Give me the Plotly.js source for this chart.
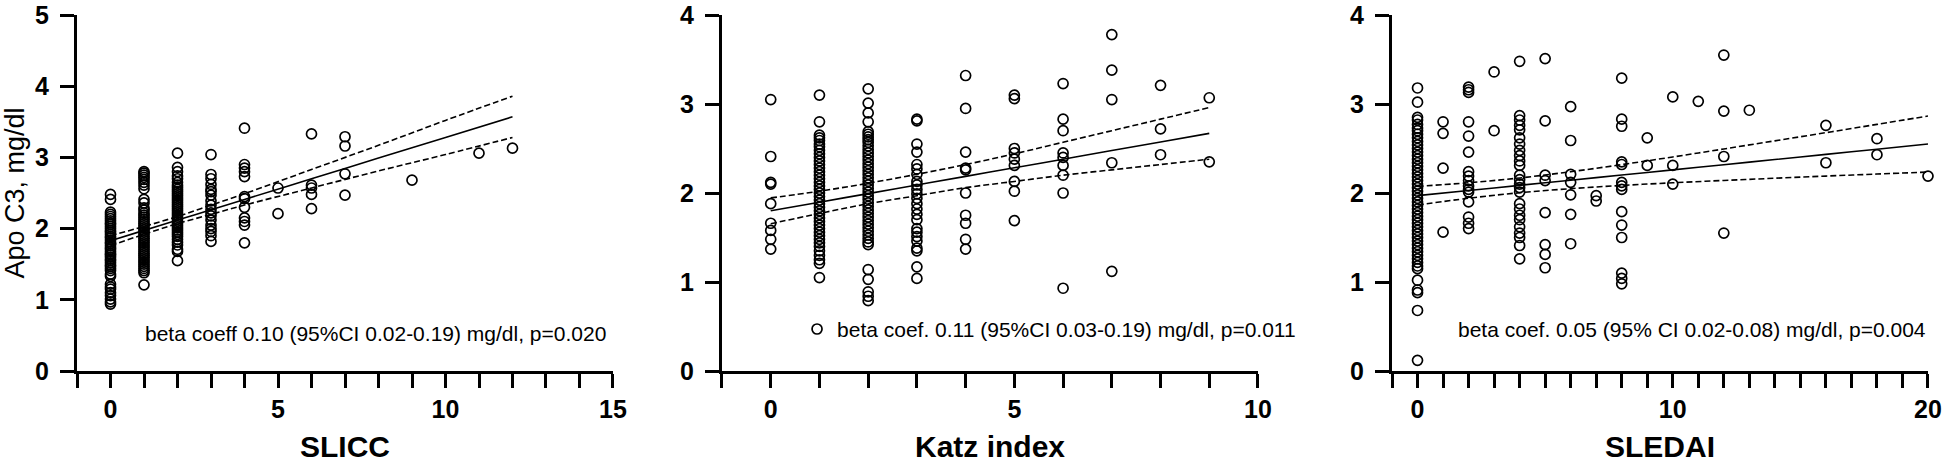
<!DOCTYPE html>
<html>
<head>
<meta charset="utf-8">
<script src="https://cdn.plot.ly/plotly-3.0.1.min.js"></script>
<style>html,body{margin:0;padding:0;background:#fff;}#chart{width:1944px;height:463px;}</style>
</head>
<body>
<div id="chart"></div>
<script>
// ---------- Panel 1: SLICC ----------
var sliccLevels = [0, 1, 2, 3, 4, 5, 6, 7, 9, 11, 12];
var apoBySlicc = [
  [2.48, 2.41, 2.23, 2.20, 2.17, 2.14, 2.11, 2.08, 2.06, 2.03, 2.00, 1.97, 1.95, 1.92, 1.89, 1.87, 1.84, 1.81, 1.79, 1.76, 1.73, 1.71, 1.68, 1.65, 1.63, 1.60, 1.57, 1.55, 1.52, 1.49, 1.47, 1.44, 1.41, 1.36, 1.33, 1.22, 1.18, 1.15, 1.10, 1.06, 1.01, 0.97, 0.94],
  [2.80, 2.78, 2.75, 2.72, 2.69, 2.65, 2.61, 2.56, 2.41, 2.36, 2.29, 2.26, 2.22, 2.19, 2.16, 2.13, 2.10, 2.07, 2.04, 2.01, 1.98, 1.95, 1.92, 1.89, 1.86, 1.83, 1.80, 1.77, 1.74, 1.71, 1.68, 1.65, 1.62, 1.59, 1.56, 1.53, 1.50, 1.47, 1.44, 1.41, 1.38, 1.21],
  [3.06, 2.86, 2.80, 2.74, 2.70, 2.65, 2.61, 2.58, 2.55, 2.52, 2.49, 2.46, 2.43, 2.40, 2.37, 2.34, 2.31, 2.28, 2.25, 2.22, 2.19, 2.16, 2.13, 2.10, 2.07, 2.04, 2.01, 1.98, 1.95, 1.92, 1.89, 1.85, 1.81, 1.77, 1.71, 1.68, 1.55],
  [3.04, 2.76, 2.70, 2.62, 2.55, 2.52, 2.47, 2.39, 2.33, 2.27, 2.22, 2.18, 2.12, 2.05, 2.00, 1.96, 1.90, 1.82],
  [3.41, 2.90, 2.85, 2.80, 2.73, 2.45, 2.42, 2.30, 2.15, 2.10, 2.05, 1.80],
  [2.57, 2.21],
  [3.33, 2.61, 2.57, 2.48, 2.28],
  [3.29, 3.16, 2.77, 2.47],
  [2.68],
  [3.06],
  [3.13]
];
var sliccFitX = [0, 1, 2, 3, 4, 6, 8, 10, 12];
var sliccFit   = [1.83, 1.975, 2.12, 2.265, 2.41, 2.70, 2.99, 3.28, 3.57];
var sliccUpper = [1.90, 2.03, 2.17, 2.33, 2.49, 2.83, 3.17, 3.52, 3.86];
var sliccLower = [1.76, 1.92, 2.07, 2.20, 2.33, 2.57, 2.81, 3.04, 3.28];

// ---------- Panel 2: Katz index ----------
var katzLevels = [0, 1, 2, 3, 4, 5, 6, 7, 8, 9];
var apoByKatz = [
  [3.05, 2.41, 2.12, 2.10, 1.88, 1.66, 1.58, 1.48, 1.37],
  [3.10, 2.80, 2.65, 2.62, 2.59, 2.55, 2.52, 2.48, 2.44, 2.40, 2.36, 2.32, 2.28, 2.24, 2.20, 2.16, 2.12, 2.08, 2.04, 2.00, 1.96, 1.92, 1.88, 1.84, 1.80, 1.76, 1.72, 1.68, 1.64, 1.60, 1.56, 1.52, 1.48, 1.44, 1.40, 1.35, 1.30, 1.25, 1.21, 1.05],
  [3.17, 3.01, 2.90, 2.80, 2.69, 2.66, 2.63, 2.60, 2.57, 2.53, 2.49, 2.45, 2.41, 2.37, 2.33, 2.29, 2.25, 2.21, 2.17, 2.13, 2.09, 2.05, 2.01, 1.97, 1.93, 1.89, 1.85, 1.81, 1.77, 1.73, 1.69, 1.65, 1.61, 1.57, 1.53, 1.49, 1.45, 1.42, 1.14, 1.03, 0.89, 0.84, 0.79],
  [2.83, 2.81, 2.55, 2.46, 2.32, 2.27, 2.21, 2.13, 2.09, 2.04, 1.99, 1.94, 1.88, 1.82, 1.76, 1.70, 1.60, 1.56, 1.51, 1.46, 1.38, 1.35, 1.17, 1.04],
  [3.32, 2.95, 2.46, 2.28, 2.26, 2.00, 1.75, 1.66, 1.48, 1.37],
  [3.10, 3.06, 2.50, 2.45, 2.38, 2.31, 2.13, 2.02, 1.69],
  [3.23, 2.83, 2.70, 2.45, 2.40, 2.31, 2.20, 2.00, 0.93],
  [3.78, 3.38, 3.05, 2.34, 1.12],
  [3.21, 2.72, 2.43],
  [3.07, 2.35]
];
var katzFitX  = [0, 1, 2, 3, 4, 5, 6, 7, 8, 9];
var katzFit   = [1.80, 1.897, 1.993, 2.09, 2.187, 2.283, 2.38, 2.477, 2.573, 2.67];
var katzUpper = [1.945, 2.02, 2.11, 2.21, 2.32, 2.44, 2.57, 2.70, 2.83, 2.96];
var katzLower = [1.655, 1.77, 1.88, 1.97, 2.06, 2.13, 2.20, 2.26, 2.32, 2.38];

// ---------- Panel 3: SLEDAI ----------
var sledaiLevels = [0, 1, 2, 3, 4, 5, 6, 7, 8, 9, 10, 11, 12, 13, 16, 18, 20];
var apoBySledai = [
  [3.18, 3.02, 2.85, 2.82, 2.77, 2.73, 2.70, 2.66, 2.62, 2.58, 2.54, 2.50, 2.46, 2.42, 2.38, 2.34, 2.30, 2.26, 2.22, 2.18, 2.14, 2.10, 2.06, 2.02, 1.98, 1.94, 1.90, 1.86, 1.82, 1.78, 1.74, 1.70, 1.66, 1.62, 1.58, 1.54, 1.50, 1.46, 1.42, 1.38, 1.34, 1.30, 1.26, 1.22, 1.18, 1.15, 1.02, 0.91, 0.88, 0.68, 0.12],
  [2.80, 2.67, 2.28, 1.56],
  [3.19, 3.16, 3.13, 2.80, 2.64, 2.46, 2.24, 2.19, 2.14, 2.08, 2.04, 2.01, 1.90, 1.73, 1.66, 1.60],
  [3.36, 2.70],
  [3.48, 2.87, 2.82, 2.76, 2.71, 2.62, 2.55, 2.48, 2.42, 2.36, 2.31, 2.20, 2.15, 2.10, 2.06, 2.01, 1.88, 1.82, 1.75, 1.70, 1.62, 1.55, 1.50, 1.41, 1.26],
  [3.51, 2.81, 2.20, 2.14, 1.78, 1.42, 1.31, 1.16],
  [2.97, 2.59, 2.21, 2.12, 1.98, 1.76, 1.43],
  [1.97, 1.91],
  [3.29, 2.83, 2.75, 2.35, 2.32, 2.12, 2.08, 2.04, 1.79, 1.64, 1.50, 1.10, 1.04, 0.98],
  [2.62, 2.31],
  [3.08, 2.31, 2.10],
  [3.03],
  [3.55, 2.92, 2.41, 1.55],
  [2.93],
  [2.76, 2.34],
  [2.61, 2.43],
  [2.19]
];
var sledaiFitX  = [0, 2, 4, 6, 8, 10, 12, 14, 16, 18, 20];
var sledaiFit   = [1.97, 2.028, 2.086, 2.144, 2.202, 2.26, 2.318, 2.376, 2.434, 2.492, 2.55];
var sledaiUpper = [2.075, 2.115, 2.169, 2.239, 2.319, 2.405, 2.495, 2.586, 2.678, 2.771, 2.865];
var sledaiLower = [1.865, 1.941, 2.003, 2.049, 2.085, 2.115, 2.141, 2.166, 2.19, 2.213, 2.235];

// ---------- Texts ----------
var xTitles = ['SLICC', 'Katz index', 'SLEDAI'];
var yTitle = 'Apo C3, mg/dl';
var xLabelSteps = [5, 5, 10];
var statTexts = [
  'beta coeff 0.10 (95%CI 0.02-0.19) mg/dl, p=0.020',
  'beta coef. 0.11 (95%CI 0.03-0.19) mg/dl, p=0.011',
  'beta coef. 0.05 (95% CI 0.02-0.08) mg/dl, p=0.004'
];

function flatten(levels, groups) {
  var xs = [], ys = [];
  for (var i = 0; i < levels.length; i++) {
    for (var j = 0; j < groups[i].length; j++) { xs.push(levels[i]); ys.push(groups[i][j]); }
  }
  return {x: xs, y: ys};
}

var FONT = 'Liberation Sans, Arial, Helvetica, sans-serif';
var marker = {symbol: 'circle-open', size: 10, color: '#000', line: {width: 1.7, color: '#000'}};
var traces = [];
var panels = [
  {lv: sliccLevels, g: apoBySlicc, fx: sliccFitX, f: sliccFit, u: sliccUpper, l: sliccLower, xa: 'x', ya: 'y'},
  {lv: katzLevels, g: apoByKatz, fx: katzFitX, f: katzFit, u: katzUpper, l: katzLower, xa: 'x2', ya: 'y2'},
  {lv: sledaiLevels, g: apoBySledai, fx: sledaiFitX, f: sledaiFit, u: sledaiUpper, l: sledaiLower, xa: 'x3', ya: 'y3'}
];
panels.forEach(function (p, k) {
  var d = flatten(p.lv, p.g);
  traces.push({type: 'scatter', mode: 'markers', x: d.x, y: d.y, xaxis: p.xa, yaxis: p.ya,
    marker: marker, name: statTexts[k], showlegend: k === 1, cliponaxis: false, hoverinfo: 'x+y'});
  traces.push({type: 'scatter', mode: 'lines', x: p.fx, y: p.f, xaxis: p.xa, yaxis: p.ya,
    line: {color: '#000', width: 1.6, shape: 'spline'}, showlegend: false});
  traces.push({type: 'scatter', mode: 'lines', x: p.fx, y: p.u, xaxis: p.xa, yaxis: p.ya,
    line: {color: '#000', width: 1.6, dash: '6px,3px', shape: 'spline'}, showlegend: false});
  traces.push({type: 'scatter', mode: 'lines', x: p.fx, y: p.l, xaxis: p.xa, yaxis: p.ya,
    line: {color: '#000', width: 1.6, dash: '6px,3px', shape: 'spline'}, showlegend: false});
});

function xAxis(dom, rng, anchor, title, step) {
  return {domain: dom, range: rng, anchor: anchor, showgrid: false, zeroline: false,
    showline: true, linewidth: 3, linecolor: '#000', ticks: 'outside', ticklen: 14, tickwidth: 3, tickcolor: '#000',
    tick0: 0, dtick: step, minor: {dtick: 1, tick0: 0, ticks: 'outside', ticklen: 14, tickwidth: 3, tickcolor: '#000', showgrid: false},
    tickfont: {family: FONT, size: 25, color: '#000', weight: 'bold'}, ticklabelstandoff: 0, ticklabeloverflow: 'allow',
    title: {text: title, font: {family: FONT, size: 30, color: '#000', weight: 'bold'}, standoff: 21}};
}
function yAxis(rng, anchor, title) {
  var a = {range: rng, anchor: anchor, domain: [0, 1], showgrid: false, zeroline: false,
    showline: true, linewidth: 3, linecolor: '#000', ticks: 'outside', ticklen: 14, tickwidth: 3, tickcolor: '#000',
    tick0: 0, dtick: 1, tickfont: {family: FONT, size: 25, color: '#000', weight: 'bold'},
    ticklabelstandoff: 6, ticklabeloverflow: 'allow'};
  if (title) a.title = {text: title, font: {family: FONT, size: 27, color: '#000'}, standoff: 12};
  return a;
}

var layout = {
  width: 1944, height: 463,
  margin: {l: 77, r: 16, t: 15, b: 92, pad: 0},
  paper_bgcolor: '#fff', plot_bgcolor: '#fff',
  font: {family: FONT, color: '#000'},
  xaxis: xAxis([0, 0.28957], [-1, 15], 'y', xTitles[0], xLabelSteps[0]),
  xaxis2: xAxis([0.34846, 0.63803], [-1, 10], 'y2', xTitles[1], xLabelSteps[1]),
  xaxis3: xAxis([0.71043, 1], [-1, 20], 'y3', xTitles[2], xLabelSteps[2]),
  yaxis: yAxis([0, 5], 'x', yTitle),
  yaxis2: yAxis([0, 4], 'x2', null),
  yaxis3: yAxis([0, 4], 'x3', null),
  showlegend: true,
  legend: {x: 0.389, y: 0.117, xanchor: 'left', yanchor: 'middle', bgcolor: 'rgba(0,0,0,0)', borderwidth: 0,
    font: {family: FONT, size: 21, color: '#000'}, itemsizing: 'trace'},
  annotations: [
    {xref: 'x', yref: 'y', x: 0.97, y: 0.52, xanchor: 'left', yanchor: 'middle', showarrow: false,
      text: statTexts[0], font: {family: FONT, size: 21, color: '#000'}},
    {xref: 'x3', yref: 'y3', x: 20, y: 0.47, xanchor: 'right', yanchor: 'middle', showarrow: false,
      text: statTexts[2], font: {family: FONT, size: 21, color: '#000'}}
  ]
};

Plotly.newPlot('chart', traces, layout, {displayModeBar: false, staticPlot: true});
</script>
</body>
</html>
